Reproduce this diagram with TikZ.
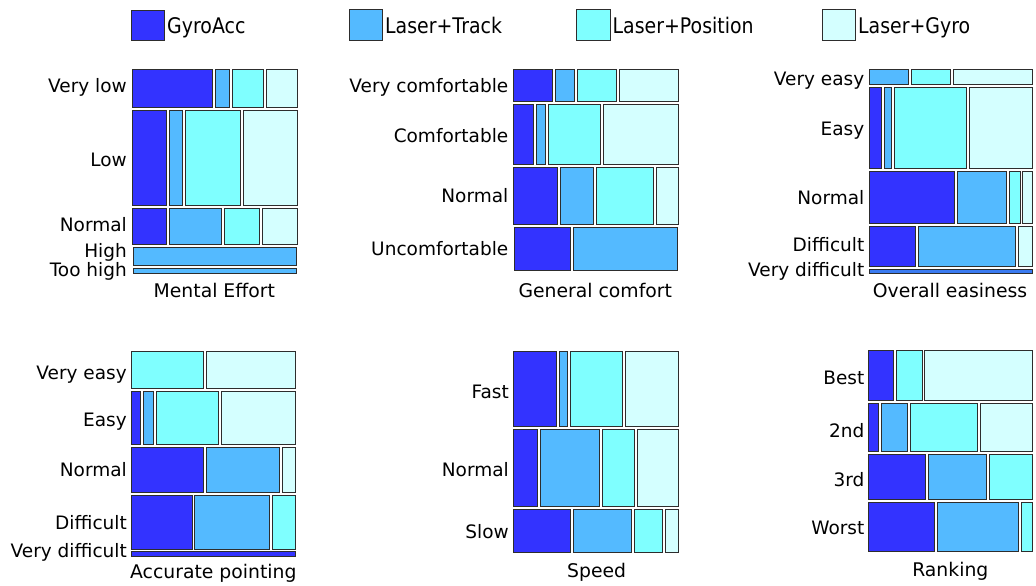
\documentclass[tikz,border=0pt]{standalone}
\usepackage{fontspec}
\setmainfont{DejaVu Sans}
\newfontfamily\legfont[FakeStretch=0.88]{DejaVu Sans}
\definecolor{cGA}{RGB}{51,51,255}
\definecolor{cLT}{RGB}{84,186,255}
\definecolor{cLP}{RGB}{127,255,255}
\definecolor{cLG}{RGB}{212,255,255}
\definecolor{cMX}{RGB}{58,122,240}
\definecolor{edge}{RGB}{45,45,45}
\tikzset{
  cellbox/.style={draw=edge, line width=0.9pt},
  lab/.style={anchor=base east, inner sep=0pt, font=\fontsize{18.5}{20}\selectfont},
  ttl/.style={anchor=base, inner sep=0pt, font=\fontsize{18.8}{20}\selectfont},
  leg/.style={anchor=base west, inner sep=0pt, font=\legfont\fontsize{21.5}{22}\selectfont},
}
\newcommand{\mcell}[5]{\draw[cellbox, fill=#1] (#2,#3) rectangle (#4,#5);}
\begin{document}
\begin{tikzpicture}[x=1pt,y=-1pt]
\useasboundingbox (0,0) rectangle (1036,586);
% legend
\draw[cellbox, fill=cGA] (131.7,10) rectangle (164.3,40.7);
\node[leg] (lgGA) at (167,33.3) {GyroAcc};
\draw[cellbox, fill=cLT] (349,9.5) rectangle (382,40.7);
\node[leg] (lgLT) at (385,33.3) {Laser+Track};
\draw[cellbox, fill=cLP] (576.7,9.5) rectangle (610,40.7);
\node[leg] (lgLP) at (612.5,33.3) {Laser+Position};
\draw[cellbox, fill=cLG] (822.7,9.5) rectangle (855.7,40.7);
\node[leg] (lgLG) at (858,33.3) {Laser+Gyro};

% ---------- Mental Effort ----------
\mcell{cGA}{132.7}{69}{212.3}{107.3}
\mcell{cLT}{215.3}{69}{229.7}{107.3}
\mcell{cLP}{232.3}{69}{263.3}{107.3}
\mcell{cLG}{266.3}{69}{297.3}{107.3}
\mcell{cGA}{132.7}{110.3}{166}{205.3}
\mcell{cLT}{169.3}{110.3}{182.3}{205.3}
\mcell{cLP}{185}{110.3}{240.3}{205.3}
\mcell{cLG}{243.3}{110.3}{297.3}{205.3}
\mcell{cGA}{132.7}{208.3}{166}{244}
\mcell{cLT}{169.3}{208.3}{221.7}{244}
\mcell{cLP}{224.7}{208.3}{259.3}{244}
\mcell{cLG}{262.3}{208.3}{297.3}{244}
\mcell{cLT}{133.3}{247}{296.3}{265.3}
\mcell{cLT}{133.3}{268.3}{296.3}{273.3}
\node[lab] (me1) at (127,92.4) {Very low};
\node[lab] (me2) at (127,166) {Low};
\node[lab] (me3) at (127,231.7) {Normal};
\node[lab] (me4) at (127,257.7) {High};
\node[lab] (me5) at (127,276) {Too high};
\node[ttl] (meT) at (214.3,297.7) {Mental Effort};

% ---------- General comfort ----------
\mcell{cGA}{513.3}{69}{552.3}{101.3}
\mcell{cLT}{555}{69}{574.3}{101.3}
\mcell{cLP}{577.3}{69}{616.3}{101.3}
\mcell{cLG}{619}{69}{678.3}{101.3}
\mcell{cGA}{513.3}{104.3}{533}{164.3}
\mcell{cLT}{536}{104.3}{545}{164.3}
\mcell{cLP}{548}{104.3}{600.7}{164.3}
\mcell{cLG}{603.3}{104.3}{678.3}{164.3}
\mcell{cGA}{513.3}{167.3}{557.7}{224}
\mcell{cLT}{560.3}{167.3}{593.7}{224}
\mcell{cLP}{596.3}{167.3}{653.3}{224}
\mcell{cLG}{656}{167.3}{678.3}{224}
\mcell{cGA}{514}{227}{570.7}{270.7}
\mcell{cLT}{573.3}{227}{677.7}{270.7}
\node[lab] (gc1) at (508.5,92.4) {Very comfortable};
\node[lab] (gc2) at (508.5,142.7) {Comfortable};
\node[lab] (gc3) at (508.5,202.7) {Normal};
\node[lab] (gc4) at (508.5,255.7) {Uncomfortable};
\node[ttl] (gcT) at (595.3,297.7) {General comfort};

% ---------- Overall easiness ----------
\mcell{cLT}{869}{69}{908.7}{84.3}
\mcell{cLP}{911.7}{69}{950.3}{84.3}
\mcell{cLG}{953.3}{69}{1032.7}{84.3}
\mcell{cGA}{869}{87.3}{881.7}{168.3}
\mcell{cLT}{884.3}{87.3}{891.7}{168.3}
\mcell{cLP}{894.3}{87.3}{966}{168.3}
\mcell{cLG}{969}{87.3}{1032.7}{168.3}
\mcell{cGA}{869}{171.3}{954.7}{223.7}
\mcell{cLT}{957.3}{171.3}{1006.7}{223.7}
\mcell{cLP}{1009.3}{171.3}{1020}{223.7}
\mcell{cLG}{1022.7}{171.3}{1032.7}{223.7}
\mcell{cGA}{869}{226.7}{915.3}{266.3}
\mcell{cLT}{918}{226.7}{1015.7}{266.3}
\mcell{cLG}{1018.3}{226.7}{1032.7}{266.3}
\mcell{cMX}{869}{269.3}{1032.7}{273.3}
\node[lab] (oe1) at (864.5,85) {Very easy};
\node[lab] (oe2) at (864.5,135.7) {Easy};
\node[lab] (oe3) at (864.5,204.4) {Normal};
\node[lab] (oe4) at (864.5,251) {Difficult};
\node[lab] (oe5) at (864.5,276) {Very difficult};
\node[ttl] (oeT) at (950,297.7) {Overall easiness};

% ---------- Accurate pointing ----------
\mcell{cLP}{131}{351}{203.7}{388.3}
\mcell{cLG}{206.3}{351}{295}{388.3}
\mcell{cGA}{131}{391}{140}{444.3}
\mcell{cLT}{143}{391}{153.7}{444.3}
\mcell{cLP}{156.3}{391}{218.3}{444.3}
\mcell{cLG}{221}{391}{295}{444.3}
\mcell{cGA}{131}{447}{203.7}{492.3}
\mcell{cLT}{206.3}{447}{279.7}{492.3}
\mcell{cLG}{282.3}{447}{295}{492.3}
\mcell{cGA}{131}{495}{192}{549}
\mcell{cLT}{194.3}{495}{269.3}{549}
\mcell{cLP}{272}{495}{295}{549}
\mcell{cGA}{131}{551.7}{295}{556}
\node[lab] (ap1) at (127,379) {Very easy};
\node[lab] (ap2) at (127,426.7) {Easy};
\node[lab] (ap3) at (127,476) {Normal};
\node[lab] (ap4) at (127,529.4) {Difficult};
\node[lab] (ap5) at (127,557.4) {Very difficult};
\node[ttl] (apT) at (213.3,578.4) {Accurate pointing};

% ---------- Speed ----------
\mcell{cGA}{513.7}{351.7}{556.3}{426}
\mcell{cLT}{559.3}{351.7}{567.3}{426}
\mcell{cLP}{570.3}{351.7}{622.7}{426}
\mcell{cLG}{625.7}{351.7}{678.3}{426}
\mcell{cGA}{513.7}{429}{537}{506}
\mcell{cLT}{540.3}{429}{599.3}{506}
\mcell{cLP}{602.3}{429}{634.3}{506}
\mcell{cLG}{637.3}{429}{678.3}{506}
\mcell{cGA}{513.7}{509}{570.3}{552.7}
\mcell{cLT}{573.3}{509}{631.3}{552.7}
\mcell{cLP}{634.3}{509}{662.7}{552.7}
\mcell{cLG}{665.7}{509}{678.3}{552.7}
\node[lab] (sp1) at (509,398.4) {Fast};
\node[lab] (sp2) at (509,476) {Normal};
\node[lab] (sp3) at (509,538.4) {Slow};
\node[ttl] (spT) at (596.7,577.7) {Speed};

% ---------- Ranking ----------
\mcell{cGA}{868.3}{350}{893.7}{400.3}
\mcell{cLP}{896.3}{350}{922}{400.3}
\mcell{cLG}{924.7}{350}{1032.7}{400.3}
\mcell{cGA}{868.3}{403}{878.7}{451.7}
\mcell{cLT}{881.7}{403}{907.7}{451.7}
\mcell{cLP}{910.3}{403}{977.7}{451.7}
\mcell{cLG}{980.3}{403}{1032.7}{451.7}
\mcell{cGA}{868.3}{454.7}{925.7}{499.7}
\mcell{cLT}{928.3}{454.7}{986.3}{499.7}
\mcell{cLP}{989}{454.7}{1032.7}{499.7}
\mcell{cGA}{868.3}{502.7}{934.7}{551.3}
\mcell{cLT}{937.3}{502.7}{1018.3}{551.3}
\mcell{cLP}{1021}{502.7}{1032.7}{551.3}
\node[lab] (rk1) at (864.5,384.4) {Best};
\node[lab] (rk2) at (864.5,437.4) {2nd};
\node[lab] (rk3) at (864.5,486.7) {3rd};
\node[lab] (rk4) at (864.5,534.4) {Worst};
\node[ttl] (rkT) at (950.3,576.7) {Ranking};
\end{tikzpicture}
\end{document}
